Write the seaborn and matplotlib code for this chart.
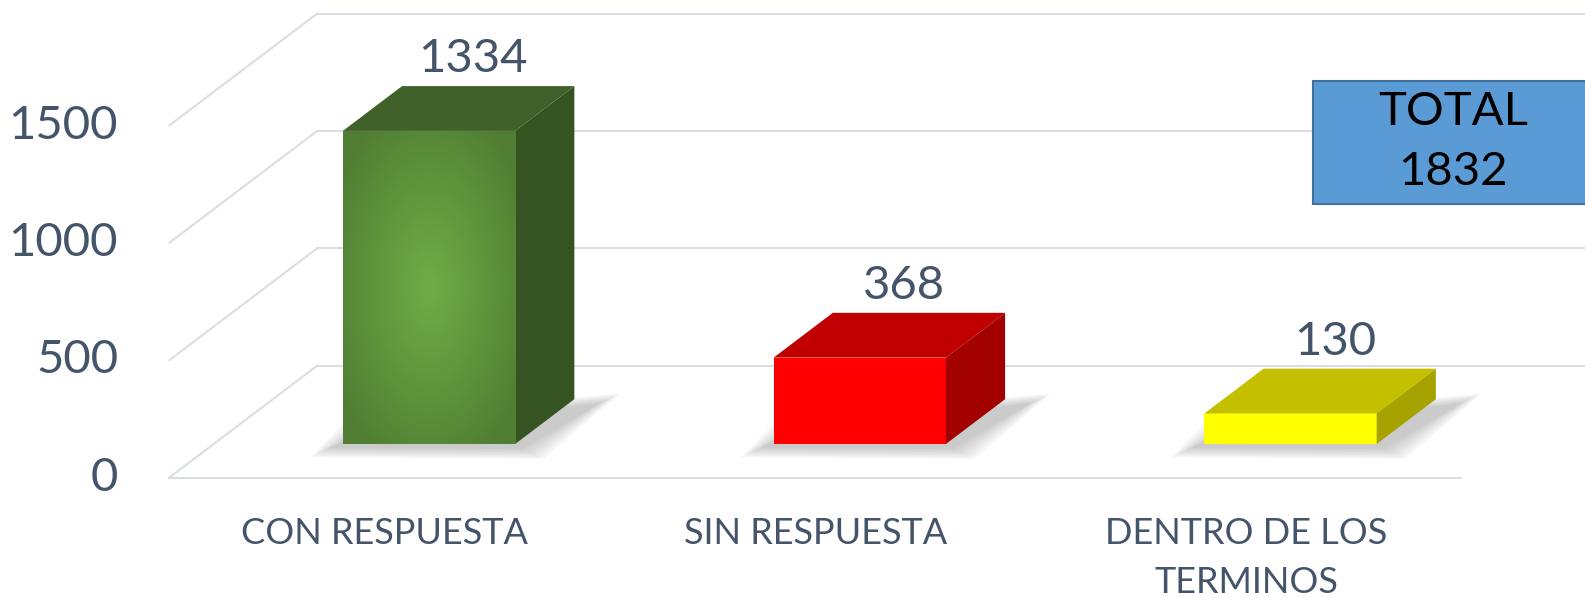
import textwrap
import numpy as np
import matplotlib.pyplot as plt
import seaborn as sns
from matplotlib.patches import Polygon, Rectangle
from matplotlib.colors import to_rgb

categories = ["CON RESPUESTA", "SIN RESPUESTA", "DENTRO DE LOS TERMINOS"]
values = [1334, 368, 130]
y_ticks = [0, 500, 1000, 1500]
total_label = "TOTAL"

front_colors = ["#5E923A", "#FF0000", "#FFFF00"]
top_colors = ["#40612A", "#C00000", "#C4C000"]
side_colors = ["#355421", "#A30000", "#A6A200"]
text_color = "#44546A"
grid_color = "#D9DDE4"

# pixel geometry of the reference (1585 x 598)
W, H = 1585, 598
CAT_PX = 430.75      # px per category step
VAL_PX = 0.2347      # px per value unit
X0_PX, Y0_PX = 429.0, 444.0   # first bar centre / bar baseline on the bar front plane

# depth of the fake 3d box, in data units (box runs from d=-0.3 to d=0.7)
DEPTH_X = 148 / CAT_PX
DEPTH_Y = 112 / VAL_PX
BAR_DEPTH = 0.4


def proj(x, v, d):
    return x + d * DEPTH_X, v + d * DEPTH_Y


def px2x(px):
    return (px - X0_PX) / CAT_PX


def px2v(py):
    return (Y0_PX - py) / VAL_PX


def grow(pts, dx, dy):
    pts = np.asarray(pts, dtype=float)
    c = pts.mean(axis=0)
    out = pts.copy()
    out[:, 0] += np.sign(pts[:, 0] - c[0]) * dx
    out[:, 1] += np.sign(pts[:, 1] - c[1]) * dy
    return out


sns.set_theme(style="white")
plt.rcParams["font.family"] = ["Lato", "DejaVu Sans"]

fig = plt.figure(figsize=(W / 100, H / 100), dpi=100)
ax = fig.add_axes([0, 0, 1, 1])

sns.barplot(x=categories, y=values, hue=categories, palette=front_colors,
            width=0.4, saturation=1, legend=False, ax=ax, zorder=3)
bars = list(ax.patches)

n = len(categories)
left, right = -0.5, n - 0.5

# back wall, side wall and floor lines
for v in y_ticks:
    fx, fy = proj(left, v, -0.3)
    bx, by = proj(left, v, 0.7)
    ax.plot([fx, bx], [fy, by], color=grid_color, lw=1.5, zorder=1)
    ax.plot([bx, bx + (right - left) + 0.5], [by, by], color=grid_color, lw=1.5, zorder=1)
fx0, fy0 = proj(left, 0, -0.3)
fx1, fy1 = proj(right, 0, -0.3)
ax.plot([fx0, fx1], [fy0, fy1], color=grid_color, lw=1.5, zorder=1)

bdx, bdy = BAR_DEPTH * DEPTH_X, BAR_DEPTH * DEPTH_Y
for i, p in enumerate(bars):
    x0, w, h = p.get_x(), p.get_width(), p.get_height()
    p.set_edgecolor("none")

    # soft shadow under the front edge and beside the side face
    core = [(x0 - 0.02, -8), (x0 + w + 0.01, -14),
            (x0 + w + bdx + 0.05, bdy - 25), (x0 + bdx * 0.5, 60)]
    for k in range(7, 0, -1):
        ax.add_patch(Polygon(grow(core, k * 0.008, k * 7), closed=True,
                             facecolor="#707070", edgecolor="none",
                             alpha=0.06, zorder=2))

    top = [(x0, h), (x0 + w, h), (x0 + w + bdx, h + bdy), (x0 + bdx, h + bdy)]
    side = [(x0 + w, 0), (x0 + w + bdx, bdy), (x0 + w + bdx, h + bdy), (x0 + w, h)]
    ax.add_patch(Polygon(top, closed=True, facecolor=top_colors[i],
                         edgecolor="none", zorder=3))
    ax.add_patch(Polygon(side, closed=True, facecolor=side_colors[i],
                         edgecolor="none", zorder=3))

    ax.text(x0 + w / 2 + 0.75 * bdx, h + bdy + 115, f"{values[i]}",
            ha="center", va="center", fontsize=34, color=text_color, zorder=5)

    ax.text(x0 + w / 2 - 0.3 * DEPTH_X, px2v(517),
            "\n".join(textwrap.wrap(categories[i], 14)),
            ha="center", va="top", fontsize=26, color=text_color,
            linespacing=1.6, multialignment="center", zorder=5)

# radial gradient on the first bar
p = bars[0]
gy, gx = np.mgrid[-1:1:200j, -1:1:200j]
r = np.clip(np.sqrt(gx ** 2 + gy ** 2) / 1.25, 0, 1)[..., None]
c0 = np.array(to_rgb("#70AD47"))
c1 = np.array(to_rgb("#507E33"))
img = c0 * (1 - r) + c1 * r
im = ax.imshow(img, extent=[p.get_x(), p.get_x() + p.get_width(), 0, p.get_height()],
               origin="lower", aspect="auto", interpolation="bilinear", zorder=3.1)
im.set_clip_path(p)

# y tick labels on the front plane
for v in y_ticks:
    ax.text(px2x(118), v - 0.3 * DEPTH_Y, f"{v}", ha="right", va="center",
            fontsize=34, color=text_color, zorder=5)

# total box
bx0, by0, by1 = px2x(1313), px2v(204), px2v(81)
ax.add_patch(Rectangle((bx0, by0), 1.0, by1 - by0, facecolor="#5B9BD5",
                       edgecolor="#41719C", lw=1.5, zorder=4))
ax.text(px2x(1453), px2v(142), f"{total_label}\n{sum(values)}",
        ha="center", va="center", fontsize=34, color="black",
        linespacing=1.55, zorder=5)

ax.set_xlim(px2x(0), px2x(W))
ax.set_ylim(px2v(H), px2v(0))
ax.axis("off")

fig.savefig("out.png", dpi=100)
